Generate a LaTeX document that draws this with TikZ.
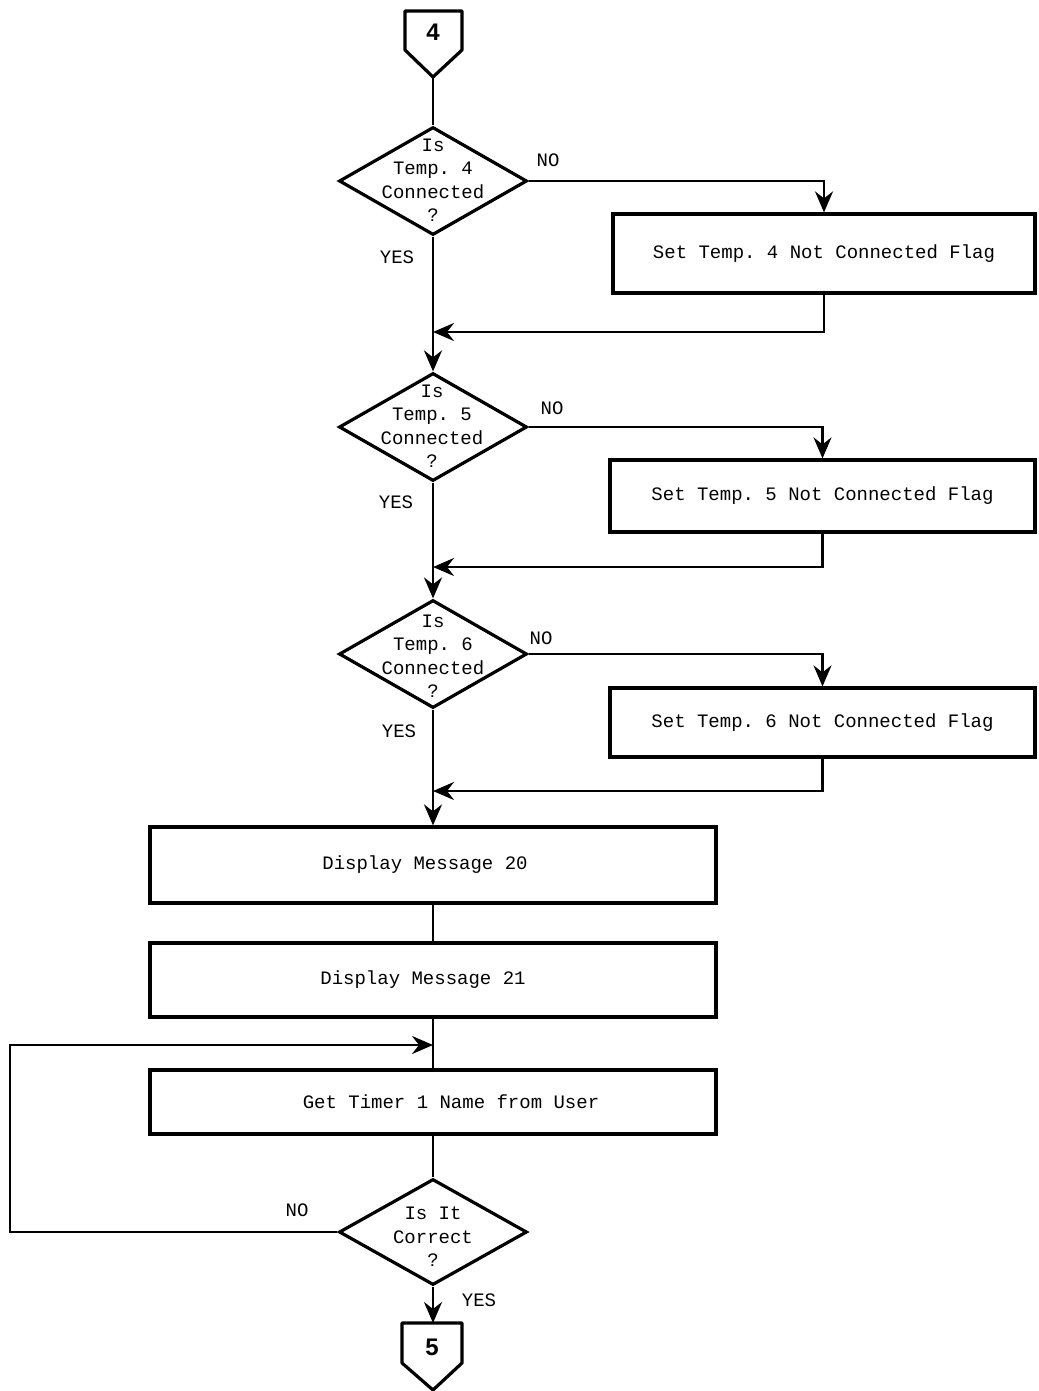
\documentclass[tikz,border=0pt]{standalone}
\usepackage{fontspec}
\setmonofont{Liberation Mono}
\setsansfont{Liberation Sans}
\usetikzlibrary{arrows.meta,shapes.geometric,calc}

\begin{document}
\begin{tikzpicture}[x=1pt,y=-1pt,
  txt/.style={font=\ttfamily\fontsize{19}{23.5}\selectfont},
  procbox/.style={draw,line width=3.2pt,inner sep=0pt,txt},
  decision/.style={draw,diamond,line width=3.2pt,inner sep=0pt,
    minimum width=188pt,minimum height=108pt},
  dtext/.style={txt,align=center},
  flow/.style={line width=2.6pt},
  arrowed/.style={flow,-{Stealth[length=21pt,width=18pt,inset=7pt]}},
  lbl/.style={txt},
  conntext/.style={font=\sffamily\bfseries\fontsize{24}{28}\selectfont},
  connline/.style={line width=3.2pt,line join=round}]

\useasboundingbox (0,0) rectangle (1038,1391);

% off-page connector 4
\node[conntext] (c4) at (433,32) {4};
\coordinate (c4tip) at (433,77);
\draw[connline] ($(c4)+(-28,-21)$) -- ($(c4)+(29,-21)$) -- ($(c4)+(29,18)$)
  -- (c4tip) -- ($(c4)+(-28,18)$) -- cycle;

% decisions and process boxes
\node[decision] (d1) at (433,181) {};
\node[dtext] (d1t) at (433,180) {Is\\Temp. 4\\Connected\\?};
\node[procbox,minimum width=422pt,minimum height=79pt] (b1) at (824,253.5)
  {Set Temp. 4 Not Connected Flag};

\node[decision] (d2) at (433,427) {};
\node[dtext] (d2t) at (432,426) {Is\\Temp. 5\\Connected\\?};
\node[procbox,minimum width=425pt,minimum height=72pt] (b2) at (822.5,496)
  {Set Temp. 5 Not Connected Flag};

\node[decision] (d3) at (433,654) {};
\node[dtext] (d3t) at (433,656) {Is\\Temp. 6\\Connected\\?};
\node[procbox,minimum width=425pt,minimum height=69pt] (b3) at (822.5,722.5)
  {Set Temp. 6 Not Connected Flag};

\node[procbox,minimum width=566pt,minimum height=76pt] (m20) at (433,865)
  {\hspace*{-16pt}Display Message 20};
\node[procbox,minimum width=566pt,minimum height=74pt] (m21) at (433,980)
  {\hspace*{-20pt}Display Message 21};
\node[procbox,minimum width=566pt,minimum height=64pt] (tm) at (433,1102)
  {\hspace*{36pt}Get Timer 1 Name from User};

\node[decision,minimum height=106pt] (d4) at (433,1232) {};
\node[dtext] (d4t) at (433,1237) {Is It\\Correct\\?};

% off-page connector 5
\node[conntext] (c5) at (432,1347) {5};
\coordinate (c5top) at (433,1323);
\coordinate (c5tip) at (433,1390);
\draw[connline] ($(c5)+(-30,-24)$) -- ($(c5)+(30,-24)$) -- ($(c5)+(30,16)$)
  -- (c5tip) -- ($(c5)+(-30,16)$) -- cycle;

% junction points on the main line
\coordinate (j1) at (433,332);
\coordinate (j2) at (433,567);
\coordinate (j3) at (433,791);
\coordinate (j4) at (433,1045);
\coordinate (loopc) at (10,1045);

% connectors
\draw[flow] (c4tip) -- (d1.north);
\draw[arrowed] (d1.east) -| (b1.north);
\draw[arrowed] (b1.south) |- (j1);
\draw[arrowed] (d1.south) -- (d2.north);

\draw[arrowed] (d2.east) -| (b2.north);
\draw[arrowed] (b2.south) |- (j2);
\draw[arrowed] (d2.south) -- (d3.north);

\draw[arrowed] (d3.east) -| (b3.north);
\draw[arrowed] (b3.south) |- (j3);
\draw[arrowed] (d3.south) -- (m20.north);

\draw[flow] (m20.south) -- (m21.north);
\draw[flow] (m21.south) -- (tm.north);
\draw[flow] (tm.south) -- (d4.north);
\draw[arrowed] (d4.west) -| (loopc) -- (j4);
\draw[arrowed] (d4.south) -- (c5top);

% branch labels
\node[lbl] (n1) at (548,160) {NO};
\node[lbl] (y1) at (397,257) {YES};
\node[lbl] (n2) at (552,408) {NO};
\node[lbl] (y2) at (396,502) {YES};
\node[lbl] (n3) at (541,638) {NO};
\node[lbl] (y3) at (399,731) {YES};
\node[lbl] (n4) at (297,1210) {NO};
\node[lbl] (y4) at (479,1300) {YES};

\end{tikzpicture}
\end{document}
